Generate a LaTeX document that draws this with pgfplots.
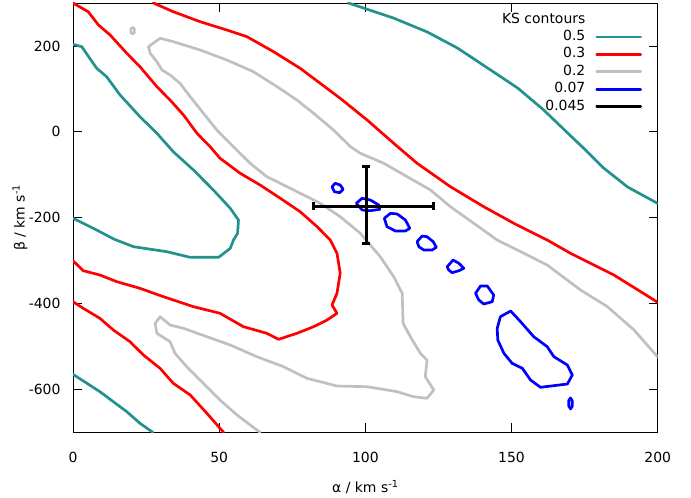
\documentclass[border=0pt]{standalone}
\usepackage{fontspec}
\setmainfont{DejaVu Sans}
\usepackage{pgfplots}
\pgfplotsset{compat=1.18}
\definecolor{ksteal}{RGB}{35,145,140}
\definecolor{ksgrey}{RGB}{192,192,192}
\begin{document}
\begin{tikzpicture}
\path[use as bounding box] (0,0) rectangle (691bp,498bp);
\begin{axis}[
  at={(73bp,65.7bp)}, anchor=south west,
  scale only axis, width=584.7bp, height=429.3bp,
  xmin=0, xmax=200, ymin=-700, ymax=300,
  xtick={0,50,...,200}, ytick={-600,-400,...,200},
  tick align=inside, major tick length=9bp,
  axis line style={line width=0.7pt},
  every tick/.style={black, line width=0.7pt},
  font=\fontsize{14}{16}\selectfont,
  /pgf/number format/assume math mode=true,
  xticklabel style={yshift=-16.5bp},
  yticklabel style={xshift=-9bp},
  xlabel={α / km s\textsuperscript{-1}},
  ylabel={β / km s\textsuperscript{-1}},
  xlabel style={at={(axis description cs:0.5,-0.127)}, anchor=center},
  ylabel style={at={(axis description cs:-0.0906,0.5)}, anchor=center},
  legend plot pos=right,
  legend cell align=right,
  legend image code/.code={\draw[#1] (0bp,0bp) -- (44bp,0bp);},
  legend style={at={(rel axis cs:0.9732,0.9765)}, anchor=north east, draw=none, fill=none,
    inner sep=0pt, outer sep=0pt, row sep=4.4bp, column sep=10bp,
    nodes={inner sep=0pt, text height=10bp, text depth=3bp}},
  every axis plot/.append style={line width=2.7pt, line join=round, line cap=round},
]
\addlegendimage{empty legend}\addlegendentry{KS contours}
\addlegendimage{ksteal, line width=2.7pt}\addlegendentry{0.5}
\addlegendimage{red, line width=2.7pt}\addlegendentry{0.3}
\addlegendimage{ksgrey, line width=2.7pt}\addlegendentry{0.2}
\addlegendimage{blue, line width=2.7pt}\addlegendentry{0.07}
\addlegendimage{black, line width=2.7pt}\addlegendentry{0.045}

% ---- 0.5 contours (teal)
\addplot[ksteal, forget plot] coordinates {
(94.2,300) (109.6,265) (121.2,232.4) (131.5,195.1) (141.8,148.6) (152.1,102)
(161.0,50.8) (169.2,-2.8) (176.0,-47) (181.5,-84.4) (189.7,-128.6) (200.3,-168)};
\addplot[ksteal, forget plot] coordinates {
(0,203.8) (3.0,198.2) (8.1,147.9) (11.5,128.3) (16.1,85.7) (22.9,35.1) (28.7,-3.5)
(34.3,-46.4) (41.2,-89) (48.0,-135.6) (53.8,-178.2) (56.6,-205.5) (56.3,-236.5)
(54.9,-252) (53.8,-271.4) (49.8,-292.4) (40.1,-292.4) (32.1,-279.3) (20.7,-267.7)
(14.0,-250) (8.1,-228.8) (3.5,-213.2) (0,-201.5)};
\addplot[ksteal, forget plot] coordinates {
(0,-564.9) (9.2,-605.4) (18.4,-652) (22.9,-679) (27.3,-700)};

% ---- 0.3 contours (red)
\addplot[red, forget plot] coordinates {
(27.5,300) (34.3,279.7) (43.5,256.4) (52.6,237.1) (59.5,221.5) (68.6,186.6)
(77.7,147.9) (91.4,78) (100.6,27.5) (109.7,-26.8) (117.7,-73.4) (129.1,-127.9)
(140.5,-174.5) (150.8,-213.2) (162.2,-252.1) (170.2,-283.1) (185.0,-333.6)
(194.2,-372.5) (200.2,-398.1)};
\addplot[red, forget plot] coordinates {
(0,300) (5.2,279.7) (8.7,248.8) (12.7,225.5) (18.4,182.8) (22.9,151.6) (28.7,105)
(33.2,74.0) (37.8,39.1) (42.4,-3.5) (46.9,-34.7) (50.3,-61.8) (57.2,-96.7)
(64.0,-124) (70.9,-154.9) (77.7,-186.1) (83.5,-221.1) (88.0,-252.1) (90.3,-283.1)
(91.4,-329.6) (90.3,-376.2) (88.6,-403.5) (90.3,-422.8) (86.9,-438.4) (82.3,-454)
(76.6,-469.4) (70.3,-483.4) (66.3,-469.4) (58.3,-454) (50.3,-422.8) (41.2,-407.4)
(30.9,-384.1) (22.9,-364.6) (15.0,-349.2) (9.2,-333.6) (3.5,-323.6) (0,-300.3)};
\addplot[red, forget plot] coordinates {
(0,-395.8) (3.5,-411.2) (9.2,-434.5) (13.8,-461.7) (19.5,-489) (24.1,-520)
(29.8,-551) (34.3,-585.9) (40.1,-613.1) (45.8,-655.8) (51.5,-700)};

% ---- 0.2 contours (grey)
\addplot[ksgrey, forget plot] coordinates {
(64.0,-700) (62.9,-694.7) (56.1,-659.7) (50.3,-624.8) (44.6,-585.9) (38.9,-547.2)
(34.9,-516) (33.2,-489) (28.7,-469.4) (28.1,-446.1) (29.8,-430.7) (33.2,-450.1)
(37.8,-457.8) (45.8,-477.3) (53.8,-496.7) (62.9,-523.9) (72.0,-547.2) (80.0,-574.2)
(90.3,-592.2) (100.6,-593.8) (110.9,-605.4) (116.5,-617.1) (121.1,-620.8)
(123.4,-601.5) (120.5,-570.5) (121.1,-531.6) (118.8,-516) (115.4,-477.3)
(112.9,-446.1) (112.6,-376.2) (109.7,-337.6) (105.1,-291) (98.3,-236.5)
(91.4,-197.8) (84.6,-166.6) (77.7,-143.3) (70.9,-120) (66.3,-104.6) (60.6,-73.4)
(54.9,-34.7) (49.2,4.2) (44.6,43.1) (40.1,81.7) (36.6,112.9) (33.2,132.3)
(30.4,144.1) (28.7,163.3) (26.4,182.8) (25.8,198.2) (29.8,217.8) (34.3,209.9)
(43.5,190.5) (52.6,167.2) (61.7,140) (69.8,105) (76.6,74.0) (82.3,43.1) (89.1,4.2)
(94.9,-34.7) (98.3,-50.1) (106.3,-73.4) (114.3,-104.6) (122.3,-135.6)
(129.1,-174.5) (137.1,-213.2) (145.1,-252.1) (152.0,-275.4) (162.2,-310.3)
(173.6,-368.5) (182.8,-407.4) (191.9,-461.7) (199.9,-523.9) (201,-530)};
\addplot[ksgrey, forget plot] coordinates {
(19.8,240) (20.4,243) (21.0,240) (21.0,231) (20.4,228) (19.8,231) (19.8,240)};

% ---- 0.07 contours (blue)
\addplot[blue, forget plot] coordinates {
(88.6,-127.9) (89.7,-120) (91.4,-124) (92.4,-134) (91.2,-141.9) (89.4,-139.6) (88.6,-127.9)};
\addplot[blue, forget plot] coordinates {
(96.9,-166.6) (98.9,-154.9) (101.7,-158.9) (104.6,-170.5) (104.9,-180.6)
(101.7,-183.8) (98.9,-182.2) (96.9,-166.6)};
\addplot[blue, forget plot] coordinates {
(106.5,-201.5) (108.6,-189.9) (110.9,-191.5) (113.7,-205.5) (115.2,-224.8)
(113.7,-231.1) (110.3,-231.1) (107.4,-221.1) (106.5,-201.5)};
\addplot[blue, forget plot] coordinates {
(117.7,-256) (119.4,-242.8) (121.1,-244.4) (123.2,-256) (124.3,-269.1)
(122.8,-275.4) (120,-275.4) (118.3,-267.7) (117.7,-256)};
\addplot[blue, forget plot] coordinates {
(128,-314.3) (130,-298.7) (132,-306.3) (133.7,-318) (132,-323.6) (129.7,-328.2)
(128.5,-321.9) (128,-314.3)};
\addplot[blue, forget plot] coordinates {
(137.7,-376.2) (139.4,-359.2) (141.7,-359.2) (143.9,-380.2) (143.4,-395.8)
(140.5,-401.2) (138.8,-391.8) (137.7,-376.2)};
\addplot[blue, forget plot] coordinates {
(146.2,-430.7) (149.7,-417.5) (153.1,-442.4) (157.6,-477.3) (162.2,-500.6)
(164.5,-523.9) (169.1,-543.3) (170.8,-566.5) (169.1,-587.5) (159.9,-595.2)
(156.5,-578.2) (153.7,-550.9) (150.2,-539.3) (147.4,-516) (145.3,-485)
(145.1,-457.8) (146.2,-430.7)};
\addplot[blue, forget plot] coordinates {
(169.6,-624.8) (170.2,-620.1) (170.8,-627.1) (170.8,-638.7) (170.2,-645.7)
(169.6,-638.7) (169.6,-624.8)};

% ---- 0.045 (black cross: estimate with error bars)
\addplot[black, line cap=butt, mark=|, mark size=4bp, mark options={line width=2.7pt, solid}, forget plot]
  coordinates {(82.3,-173.6) (123.4,-173.6)};
\addplot[black, line cap=butt, mark=-, mark size=4bp, mark options={line width=2.7pt, solid}, forget plot]
  coordinates {(100.3,-81.3) (100.3,-259.8)};
\end{axis}
\end{tikzpicture}
\end{document}
